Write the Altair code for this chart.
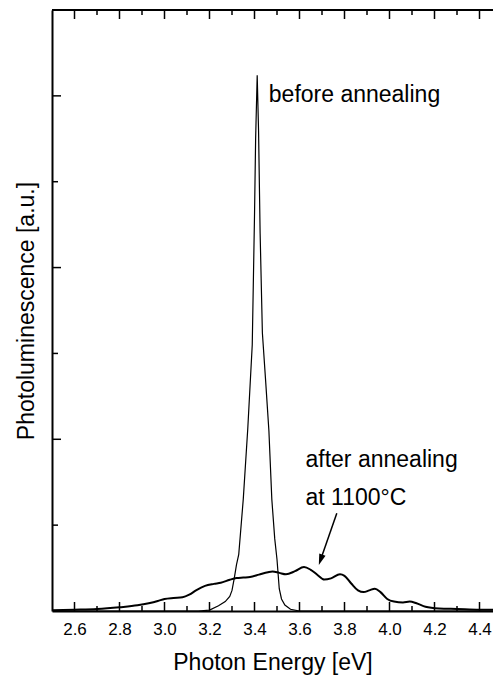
import altair as alt
import pandas as pd

# ---- data ----
before_x = [2.50, 3.15, 3.20, 3.24, 3.27, 3.29, 3.30, 3.31, 3.32, 3.33, 3.35, 3.37, 3.39,
            3.40, 3.405, 3.412, 3.418, 3.425, 3.435, 3.45, 3.464, 3.477, 3.49, 3.50, 3.51,
            3.52, 3.535, 3.56, 3.60, 4.46]
before_y = [0.0, 0.0, 0.005, 0.03, 0.055, 0.085, 0.12, 0.19, 0.27, 0.33, 0.65, 1.06, 1.55,
            2.3, 2.75, 3.12, 2.8, 2.2, 1.62, 1.33, 1.05, 0.65, 0.42, 0.30, 0.13,
            0.07, 0.035, 0.01, 0.0, 0.0]

after_x = [2.50, 2.60, 2.70, 2.80, 2.88, 2.93, 2.97, 3.00, 3.04, 3.08, 3.11, 3.14, 3.18,
           3.22, 3.25, 3.29, 3.32, 3.35, 3.38, 3.42, 3.46, 3.48, 3.51, 3.54, 3.58, 3.62,
           3.65, 3.68, 3.71, 3.74, 3.78, 3.80, 3.83, 3.86, 3.885, 3.91, 3.935, 3.96, 3.99,
           4.02, 4.06, 4.09, 4.12, 4.16, 4.22, 4.30, 4.40, 4.46]
after_y = [0.005, 0.008, 0.012, 0.022, 0.033, 0.045, 0.058, 0.07, 0.076, 0.08, 0.095, 0.12, 0.146,
           0.158, 0.165, 0.182, 0.192, 0.195, 0.198, 0.212, 0.226, 0.23, 0.222, 0.214, 0.232, 0.256,
           0.24, 0.21, 0.183, 0.19, 0.214, 0.205, 0.16, 0.12, 0.11, 0.12, 0.13, 0.11, 0.07,
           0.055, 0.05, 0.055, 0.045, 0.025, 0.015, 0.012, 0.008, 0.008]

x_major = [2.6, 2.8, 3.0, 3.2, 3.4, 3.6, 3.8, 4.0, 4.2, 4.4]
x_minor = [2.7, 2.9, 3.1, 3.3, 3.5, 3.7, 3.9, 4.1, 4.3]
y_major = [1.0, 2.0, 3.0]
y_minor = [0.5, 1.5, 2.5]

labels_text = ["before annealing", "after annealing", "at 1100°C"]
labels_x = [3.4636, 3.6267, 3.6267]
labels_y = [2.966, 0.840, 0.617]

arrow_x = [3.7658]
arrow_y = [0.569]
arrow_x2 = [3.6938]
arrow_y2 = [0.2982]

W, H = 441, 601
FONT = "Liberation Sans"

xs = alt.Scale(domain=[2.5, 4.46], nice=False, zero=False)
ys = alt.Scale(domain=[0, 3.5], nice=False, zero=False)

before_df = pd.DataFrame({"x": before_x, "y": before_y})
after_df = pd.DataFrame({"x": after_x, "y": after_y})

base_x = alt.X("x:Q", scale=xs, axis=alt.Axis(
    title="Photon Energy [eV]", values=x_major, format=".1f", ticks=False, grid=False,
    domain=True, domainColor="black", domainWidth=2, labelFont=FONT, labelFontSize=17,
    labelColor="black", labelPadding=10, labelFlush=False, titleFont=FONT,
    titleFontSize=23, titleFontWeight="normal", titleColor="black", titlePadding=14))
base_y = alt.Y("y:Q", scale=ys, axis=alt.Axis(
    title="Photoluminescence [a.u.]", ticks=False, labels=False, grid=False,
    domain=True, domainColor="black", domainWidth=2, titleFont=FONT, titleFontSize=23,
    titleFontWeight="normal", titleColor="black", titlePadding=19,
    titleBaseline="alphabetic"))

before_line = alt.Chart(before_df).mark_line(color="black", strokeWidth=1.2, clip=True).encode(
    x=base_x, y=base_y)
after_line = alt.Chart(after_df).mark_line(
    color="black", strokeWidth=2, interpolate="monotone", clip=True).encode(
    x=alt.X("x:Q", scale=xs), y=alt.Y("y:Q", scale=ys))

xmaj_df = pd.DataFrame({"t": x_major})
xmin_df = pd.DataFrame({"t": x_minor})
ymaj_df = pd.DataFrame({"t": y_major})
ymin_df = pd.DataFrame({"t": y_minor})

def xticks(df, y0, y1):
    return alt.Chart(df).mark_rule(color="black", strokeWidth=1.5).encode(
        x=alt.X("t:Q", scale=xs), y=alt.value(y0), y2=alt.value(y1))

def yticks(df, length):
    return alt.Chart(df).mark_rule(color="black", strokeWidth=1.5).encode(
        y=alt.Y("t:Q", scale=ys), x=alt.value(0), x2=alt.value(length))

ticks = [
    xticks(xmaj_df, H, H - 9), xticks(xmin_df, H, H - 5),
    xticks(xmaj_df, 0, 9), xticks(xmin_df, 0, 5),
    yticks(ymaj_df, 9), yticks(ymin_df, 6),
]

top_border = alt.Chart(pd.DataFrame({"a": [0]})).mark_rule(color="black", strokeWidth=2).encode(
    x=alt.value(0), x2=alt.value(W), y=alt.value(0))

text_df = pd.DataFrame({"x": labels_x, "y": labels_y, "t": labels_text})
texts = alt.Chart(text_df).mark_text(
    align="left", baseline="alphabetic", font=FONT, fontSize=23, color="black").encode(
    x=alt.X("x:Q", scale=xs), y=alt.Y("y:Q", scale=ys), text="t:N")

arrow_df = pd.DataFrame({"x": arrow_x, "y": arrow_y, "x2": arrow_x2, "y2": arrow_y2})
arrow_line = alt.Chart(arrow_df).mark_rule(color="black", strokeWidth=1.5).encode(
    x=alt.X("x:Q", scale=xs), y=alt.Y("y:Q", scale=ys), x2="x2:Q", y2="y2:Q")
arrow_head = alt.Chart(arrow_df).mark_point(
    shape="M0,-1L0.6,1L-0.6,1Z", filled=True, color="black", opacity=1, size=121, angle=199).encode(
    x=alt.X("x2:Q", scale=xs), y=alt.Y("y2:Q", scale=ys))

chart = alt.layer(before_line, after_line, *ticks, top_border, texts, arrow_line, arrow_head).properties(
    width=W, height=H,
    autosize=alt.AutoSizeParams(type="none"),
    padding={"left": 52, "top": 10, "right": 0, "bottom": 66},
).configure_view(stroke=None).configure(background="white")

chart.save("out.html", embed_options={"renderer": "svg", "actions": False})
